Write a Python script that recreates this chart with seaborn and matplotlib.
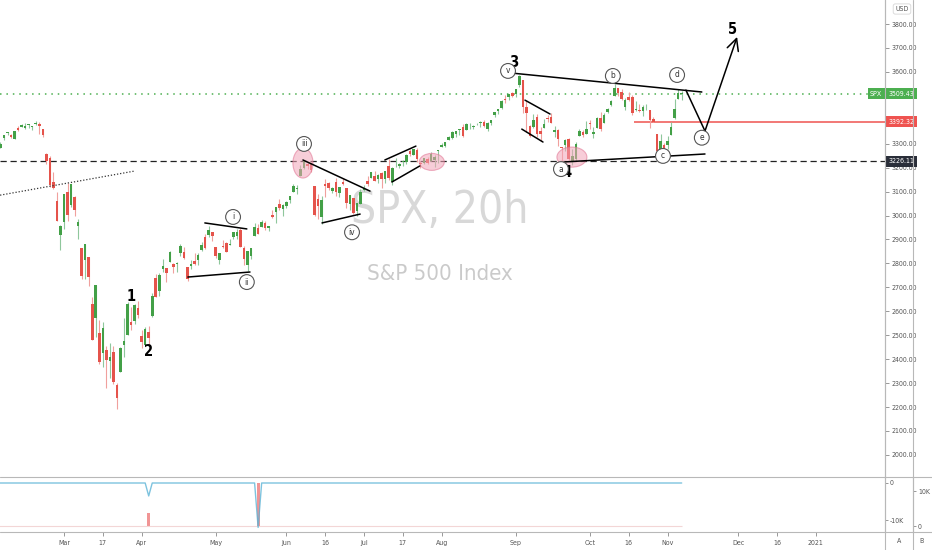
import numpy as np
import pandas as pd
import matplotlib
matplotlib.use("Agg")
import matplotlib.pyplot as plt
import matplotlib.transforms as mtransforms
from matplotlib import font_manager
from matplotlib.lines import Line2D
from matplotlib.patches import Ellipse
import seaborn as sns

# trading calendar (one 20h bar per session)
holidays = ["2020-02-17", "2020-04-10", "2020-05-25", "2020-07-03",
            "2020-09-07", "2020-11-26", "2020-12-25", "2021-01-01"]
anchor_day = "2020-03-02"
first_day = "2020-02-03"

opens = [
    3235.66, 3280.61, 3324.91, 3344.92, 3335.54, 3318.28, 3365.87, 3370.50, 3365.90, 3378.08,
    3369.04, 3380.39, 3380.45, 3360.50, 3257.61, 3238.94, 3139.90, 3062.54, 2916.90,
    2974.28, 3096.46, 3045.75, 3075.70, 2954.20, 2863.89, 2813.48, 2825.60, 2630.86, 2569.99,
    2508.59, 2425.66, 2436.50, 2393.48, 2431.94, 2290.71, 2344.44, 2457.77, 2501.29, 2555.87,
    2558.98, 2614.69,
    2498.08, 2458.54, 2514.92, 2578.28, 2738.65, 2685.00, 2776.99, 2782.46, 2805.10, 2795.64,
    2799.34, 2842.43, 2845.62, 2784.81, 2787.89, 2810.42, 2812.64, 2854.65, 2909.96, 2918.46,
    2930.91,
    2869.09, 2815.01, 2868.88, 2883.14, 2878.26, 2908.83, 2915.46, 2939.50, 2865.86, 2794.54,
    2829.95, 2913.86, 2948.59, 2953.63, 2969.95, 2948.05, 3004.08, 3015.65, 3046.61, 3025.17,
    3038.78, 3064.78, 3098.90, 3111.56, 3163.84, 3199.92, 3213.32, 3213.42, 3123.53, 3071.04,
    2993.76, 3131.00, 3136.13, 3101.64, 3140.29, 3094.42, 3138.70, 3114.40, 3046.60, 3073.20,
    3018.59, 3050.20,
    3105.92, 3143.64, 3155.29, 3166.44, 3153.07, 3176.17, 3152.47, 3205.08, 3141.11, 3225.98,
    3208.36, 3224.21, 3224.29, 3268.52, 3254.86, 3271.64, 3218.58, 3219.84, 3234.27, 3227.22,
    3231.76, 3270.45,
    3288.26, 3289.92, 3317.37, 3323.17, 3340.05, 3356.04, 3370.34, 3355.46, 3372.95, 3368.66,
    3380.86, 3387.04, 3392.51, 3360.48, 3386.01, 3418.09, 3435.95, 3449.97, 3485.14, 3494.69,
    3509.73,
    3507.44, 3543.76, 3564.74, 3453.60, 3371.88, 3369.82, 3412.56, 3352.70, 3363.56, 3407.73,
    3411.23, 3346.86, 3357.38, 3285.57, 3295.75, 3320.11, 3226.14, 3236.66, 3333.90, 3350.92,
    3341.21,
    3385.87, 3338.94, 3367.27, 3408.74, 3384.56, 3434.28, 3459.67, 3500.02, 3534.01, 3515.47,
    3453.72, 3493.50, 3493.66, 3439.38, 3439.91, 3438.50, 3464.90, 3441.42, 3403.15, 3342.48,
    3277.17, 3293.59,
    3296.20, 3336.25, 3406.46, 3485.74, 3508.34,
]
highs = [
    3268.44, 3306.92, 3337.58, 3347.96, 3341.42, 3352.26, 3375.63, 3381.47, 3385.09, 3380.69,
    3375.01, 3393.52, 3389.15, 3360.76, 3259.81, 3246.99, 3182.51, 3097.07, 2959.72,
    3090.96, 3136.72, 3130.97, 3083.04, 2985.93, 2863.89, 2882.59, 2825.60, 2660.95, 2711.33,
    2562.98, 2553.93, 2453.57, 2466.97, 2453.01, 2300.73, 2449.71, 2571.42, 2637.01, 2615.91,
    2631.80, 2641.39,
    2522.75, 2533.22, 2538.18, 2676.85, 2756.89, 2760.75, 2818.57, 2782.46, 2851.85, 2801.88,
    2806.51, 2879.22, 2868.98, 2785.54, 2815.10, 2844.90, 2842.71, 2887.72, 2921.15, 2954.86,
    2930.91,
    2869.09, 2844.24, 2898.23, 2891.11, 2901.92, 2932.16, 2944.25, 2945.82, 2874.14, 2852.80,
    2865.01, 2968.09, 2964.21, 2980.29, 2978.50, 2956.76, 3021.72, 3036.25, 3068.67, 3049.17,
    3062.18, 3081.07, 3130.94, 3128.91, 3211.72, 3233.13, 3222.71, 3223.27, 3123.53, 3088.42,
    3079.76, 3153.45, 3141.16, 3120.00, 3155.53, 3120.92, 3154.90, 3115.01, 3086.25, 3073.73,
    3053.89, 3111.51,
    3128.44, 3165.81, 3182.59, 3184.15, 3171.80, 3179.78, 3186.82, 3235.32, 3200.95, 3238.28,
    3220.39, 3233.52, 3258.61, 3277.29, 3279.32, 3279.99, 3227.26, 3241.43, 3243.72, 3264.74,
    3250.92, 3272.17,
    3302.73, 3306.84, 3330.77, 3351.03, 3352.54, 3363.29, 3381.01, 3387.89, 3387.24, 3378.51,
    3387.59, 3395.06, 3399.54, 3390.80, 3399.96, 3432.09, 3444.21, 3481.07, 3501.38, 3509.23,
    3514.77,
    3528.03, 3588.11, 3564.85, 3479.15, 3379.97, 3424.77, 3425.55, 3368.95, 3402.93, 3419.48,
    3428.92, 3375.17, 3362.27, 3285.57, 3320.31, 3323.35, 3278.70, 3306.88, 3360.74, 3357.92,
    3393.56,
    3397.18, 3369.10, 3409.57, 3431.56, 3426.26, 3447.28, 3482.34, 3549.85, 3534.01, 3527.94,
    3489.08, 3515.76, 3502.42, 3476.93, 3464.86, 3460.53, 3466.46, 3441.42, 3409.51, 3342.48,
    3341.05, 3304.93,
    3330.14, 3389.49, 3486.25, 3529.05, 3521.58,
]
lows = [
    3235.66, 3280.61, 3313.75, 3334.39, 3322.12, 3317.77, 3352.72, 3369.72, 3360.52, 3366.15,
    3355.61, 3378.83, 3341.02, 3328.45, 3214.65, 3118.77, 3108.99, 2977.39, 2855.84,
    2945.19, 2976.63, 3034.38, 2999.83, 2901.54, 2734.43, 2734.00, 2707.22, 2478.86, 2492.37,
    2380.94, 2367.04, 2280.52, 2319.78, 2295.56, 2191.86, 2344.44, 2407.53, 2500.72, 2520.02,
    2545.28, 2571.15,
    2447.49, 2455.79, 2459.96, 2574.57, 2657.67, 2663.30, 2762.36, 2721.17, 2805.10, 2761.54,
    2764.32, 2830.88, 2820.43, 2727.10, 2775.95, 2794.26, 2791.76, 2852.89, 2860.71, 2912.16,
    2892.47,
    2821.61, 2797.85, 2863.55, 2847.65, 2876.48, 2902.88, 2903.44, 2869.59, 2793.15, 2766.64,
    2816.78, 2913.86, 2922.35, 2953.63, 2938.57, 2933.59, 2988.17, 2969.75, 3023.40, 2998.61,
    3031.54, 3051.64, 3098.90, 3090.41, 3163.84, 3196.00, 3193.11, 3181.49, 2999.49, 2984.47,
    2965.66, 3076.06, 3108.03, 3093.51, 3083.11, 3079.39, 3127.12, 3032.13, 3024.01, 3004.63,
    2999.74, 3047.83,
    3101.17, 3124.52, 3155.29, 3142.93, 3136.53, 3115.70, 3136.22, 3149.43, 3127.66, 3200.76,
    3198.59, 3205.65, 3215.16, 3247.77, 3253.10, 3222.66, 3200.05, 3214.25, 3216.17, 3227.22,
    3204.13, 3220.26,
    3284.53, 3286.37, 3317.37, 3318.14, 3328.72, 3335.44, 3326.44, 3355.46, 3363.35, 3361.64,
    3379.22, 3370.15, 3369.66, 3354.69, 3379.31, 3413.13, 3425.84, 3444.15, 3468.35, 3484.32,
    3493.25,
    3494.60, 3535.23, 3427.41, 3349.63, 3329.27, 3366.84, 3329.25, 3310.47, 3363.56, 3389.25,
    3384.45, 3328.82, 3292.40, 3229.10, 3270.95, 3232.57, 3209.45, 3228.44, 3332.91, 3327.54,
    3340.47,
    3361.39, 3323.69, 3367.27, 3354.54, 3384.56, 3428.15, 3458.07, 3499.61, 3500.86, 3480.55,
    3440.89, 3480.45, 3419.93, 3435.65, 3433.06, 3415.34, 3440.45, 3364.86, 3388.71, 3268.89,
    3259.82, 3233.94,
    3279.74, 3336.25, 3405.17, 3485.74, 3484.34,
]
closes = [
    3248.92, 3297.59, 3334.69, 3345.78, 3327.71, 3352.09, 3357.75, 3379.45, 3373.94, 3380.16,
    3370.29, 3386.15, 3373.23, 3337.75, 3225.89, 3128.21, 3116.39, 2978.76, 2954.22,
    3090.23, 3003.37, 3130.12, 3023.94, 2972.37, 2746.56, 2882.23, 2741.38, 2480.64, 2711.02,
    2386.13, 2529.19, 2398.10, 2409.39, 2304.92, 2237.40, 2447.33, 2475.56, 2630.07, 2541.47,
    2626.65, 2584.59,
    2470.50, 2526.90, 2488.65, 2663.68, 2659.41, 2749.98, 2789.82, 2761.63, 2846.06, 2783.36,
    2799.55, 2874.56, 2823.16, 2736.56, 2799.31, 2797.80, 2836.74, 2878.48, 2863.39, 2939.51,
    2912.43,
    2830.71, 2842.74, 2868.44, 2848.42, 2881.19, 2929.80, 2930.32, 2870.12, 2820.00, 2852.50,
    2863.70, 2953.91, 2922.94, 2971.61, 2948.51, 2955.45, 2991.77, 3036.13, 3029.73, 3044.31,
    3055.73, 3080.82, 3122.87, 3112.35, 3193.93, 3232.39, 3207.18, 3190.14, 3002.10, 3041.31,
    3066.59, 3124.74, 3113.49, 3115.34, 3097.74, 3117.86, 3131.29, 3050.33, 3083.76, 3009.05,
    3053.24, 3100.29,
    3115.86, 3130.01, 3179.72, 3145.32, 3169.94, 3152.05, 3185.04, 3155.22, 3197.52, 3226.56,
    3215.57, 3224.73, 3251.84, 3257.30, 3276.02, 3235.66, 3215.63, 3239.41, 3218.44, 3258.44,
    3246.22, 3271.12,
    3294.61, 3306.51, 3327.77, 3349.16, 3351.28, 3360.47, 3333.69, 3380.35, 3373.43, 3372.85,
    3381.99, 3389.78, 3374.85, 3385.51, 3397.16, 3431.28, 3443.62, 3478.73, 3484.55, 3508.01,
    3500.31,
    3526.65, 3580.84, 3455.06, 3426.96, 3331.84, 3398.96, 3339.19, 3340.97, 3383.54, 3401.20,
    3385.49, 3357.01, 3319.47, 3281.06, 3315.57, 3236.92, 3246.59, 3298.46, 3351.60, 3335.47,
    3363.00,
    3380.80, 3348.42, 3408.60, 3360.97, 3419.44, 3446.83, 3477.14, 3534.22, 3511.93, 3488.67,
    3483.34, 3483.81, 3426.92, 3443.12, 3435.56, 3453.49, 3465.39, 3400.97, 3390.68, 3271.03,
    3310.11, 3269.96,
    3310.24, 3369.16, 3443.44, 3510.45, 3509.43,
]

# bottom indicator: flat at zero with two spikes
spike_days = ["2020-04-03", "2020-05-19"]
spike_line = [-3500, -12000]
spike_bars = [3700, 12300]

# horizontal levels
last_price = 3509.43
red_level = 3392.32
black_level = 3226.11
red_level_from = "2020-10-20"

tick_days = ["2020-03-02", "2020-03-17", "2020-04-01", "2020-05-01", "2020-06-01", "2020-06-16",
             "2020-07-01", "2020-07-17", "2020-08-03", "2020-09-01", "2020-10-01", "2020-10-16",
             "2020-11-02", "2020-12-01", "2020-12-16", "2021-01-04"]
tick_labels = ["Mar", "17", "Apr", "May", "Jun", "16", "Jul", "17", "Aug", "Sep", "Oct", "16",
               "Nov", "Dec", "16", "2021"]
price_ticks = list(range(2000, 3801, 100))
hidden_ticks = [3400, 3500]  # covered by the price boxes

# drawn annotations, as (bar offset from Mar 2, price)
dotted_trend = [(-18.1, 3085), (20.1, 3186)]
trend_lines = [
    [(39.9, 2969), (51.8, 2944)],
    [(35.1, 2743), (52.7, 2764)],
    [(67.7, 3232), (86.7, 3102)],
    [(73.1, 2969), (83.9, 3006)],
    [(90.9, 3232), (99.7, 3290)],
    [(92.9, 3140), (100.8, 3207)],
    [(130.6, 3482), (137.7, 3424)],
    [(129.7, 3361), (135.7, 3307)],
    [(126.9, 3595), (180.7, 3516)],
    [(141.9, 3224), (181.6, 3257)],
]
projection = [(176.2, 3524), (181.6, 3353), (190.7, 3746)]
wave_numbers = [("1", 19.0, 2660), ("2", 24.1, 2430), ("3", 127.5, 3640),
                ("4", 142.5, 3178), ("5", 189.5, 3775)]
wave_circles = [("i", 47.9, 2994), ("ii", 51.8, 2722), ("iii", 68.0, 3299),
                ("iv", 81.6, 2930), ("v", 125.8, 3604), ("a", 140.8, 3194),
                ("b", 155.5, 3583), ("c", 169.7, 3249), ("d", 173.7, 3587),
                ("e", 180.7, 3325)]
highlights = [(67.7, 3219, 5.7, 125), (104.2, 3224, 7.1, 71), (143.9, 3244, 8.5, 84)]


def bar_pos(day):
    return int(np.busday_count(anchor_day, day, holidays=holidays))


def pick_narrow_font():
    fonts = font_manager.fontManager.ttflist
    if any(f.name == "Liberation Sans Narrow" for f in fonts):
        return "Liberation Sans Narrow", "normal", 1.3
    if any(f.name == "DejaVu Sans" and f.stretch == "condensed" for f in fonts):
        return "DejaVu Sans", "condensed", 1.1
    return "DejaVu Sans", "normal", 1.0


sns.set_theme(style="white")
narrow_name, narrow_stretch, k = pick_narrow_font()
plt.rcParams["font.family"] = [narrow_name, "DejaVu Sans"]
plt.rcParams["font.stretch"] = narrow_stretch
small = 4.6 * k

W, H = 932, 550
fig = plt.figure(figsize=(W / 100, H / 100), dpi=100)
ax = fig.add_axes([0, 73 / H, 885 / W, 477 / H])
axi = fig.add_axes([0, 18 / H, 885 / W, 55 / H])

o = np.array(opens)
h = np.array(highs)
l = np.array(lows)
c = np.array(closes)
x = bar_pos(first_day) + np.arange(len(c))
up = c >= o

green, red = "#43a047", "#e5534b"
ax.vlines(x, l, h, colors=np.where(up, "#8fc79c", "#f0a09d"), linewidth=0.8, zorder=2)
ax.bar(x, np.maximum(np.abs(c - o), 3), bottom=np.minimum(o, c), width=0.72,
       color=np.where(up, green, red), linewidth=0, zorder=3)

ax.set_xlim(-18.13, 232.6)
ax.set_ylim(1907.7, 3900.3)
axi.set_xlim(-18.13, 232.6)

# levels
ax.axhline(last_price, color="#4caf50", lw=1.1, linestyle=(0, (1, 3.2)), zorder=1)
ax.axhline(black_level, color="#222222", lw=0.9, linestyle=(0, (5, 3)), zorder=1)
ax.hlines(red_level, bar_pos(red_level_from) - 0.5, 232.6, color="#ef5350", lw=1.1, zorder=1)
ax.plot(*zip(*dotted_trend), color="#333333", lw=0.9, linestyle=(0, (1, 1.5)), zorder=4)

for seg in trend_lines:
    ax.plot(*zip(*seg), color="black", lw=1.1, solid_capstyle="round", zorder=5)
ax.plot(*zip(*projection[:2]), color="black", lw=1.1, zorder=5)
ax.annotate("", xy=projection[2], xytext=projection[1],
            arrowprops=dict(arrowstyle="->,head_length=0.7,head_width=0.35", color="black",
                            lw=1.1, shrinkA=0, shrinkB=0), zorder=5)

for cx, cy, w, hgt in highlights:
    ax.add_patch(Ellipse((cx, cy), w, hgt, facecolor="#f2a5b8", alpha=0.55,
                         edgecolor="#e07090", lw=0.8, zorder=4))

for txt, bx, py in wave_numbers:
    ax.text(bx, py, txt, ha="center", va="center", fontsize=10.5, fontweight="bold",
            color="black", zorder=6)
for txt, bx, py in wave_circles:
    ax.text(bx, py, txt, ha="center", va="center", fontsize=6, color="#333333", zorder=6,
            bbox=dict(boxstyle="circle,pad=0.35", fc="white", ec="#555555", lw=0.8))

# watermark
blend = mtransforms.blended_transform_factory(ax.transAxes, ax.transData)
ax.text(440 / 885, 3023, "SPX, 20h", transform=blend, ha="center", va="center",
        fontsize=29 * k, color="#d8d8d8", zorder=0)
ax.text(440 / 885, 2756, "S&P 500 Index", transform=blend, ha="center", va="center",
        fontsize=14.5 * k, color="#cacaca", zorder=0)

# price axis
for side in ["top", "left", "bottom"]:
    ax.spines[side].set_visible(False)
ax.spines["right"].set_color("#b8b8b8")
ax.spines["right"].set_linewidth(0.8)
ax.yaxis.tick_right()
ax.set_yticks(price_ticks)
ax.set_yticklabels(["" if p in hidden_ticks else f"{p:.2f}" for p in price_ticks])
ax.tick_params(axis="y", length=3, width=0.6, color="#888888", pad=1.5, labelsize=small,
               labelcolor="#555555")
ax.set_xticks([])

box = dict(boxstyle="square,pad=0.35", ec="none")
ax.text(1.004, last_price, "3509.43", transform=blend, ha="left", va="center", fontsize=small,
        color="white", bbox=dict(box, fc="#4caf50"), zorder=7)
ax.text(0.997, last_price, "SPX", transform=blend, ha="right", va="center", fontsize=small,
        color="white", bbox=dict(box, fc="#4caf50"), zorder=7)
ax.text(1.004, red_level, "3392.32", transform=blend, ha="left", va="center", fontsize=small,
        color="white", bbox=dict(box, fc="#ef5350"), zorder=7)
ax.text(1.004, black_level, "3226.11", transform=blend, ha="left", va="center", fontsize=small,
        color="white", bbox=dict(box, fc="#2a2e39"), zorder=7)

# indicator panel
n_bars = len(c)
line_vals = np.zeros(n_bars)
bar_vals = np.zeros(n_bars)
for day, lv, bv in zip(spike_days, spike_line, spike_bars):
    j = bar_pos(day) - bar_pos(first_day)
    line_vals[j] = lv
    bar_vals[j] = bv
ind = pd.DataFrame({"bar": x, "line": line_vals, "hist": bar_vals})

axi.set_ylim(-13240, 1620)
twin = axi.twinx()
twin.set_ylim(-1714, 14000)
twin.hlines(0, x[0], x[-1], color="#f3d6d6", lw=0.8)
twin.bar(ind["bar"], ind["hist"], width=0.8, color="#f08a8a", alpha=0.9, linewidth=0)
sns.lineplot(data=ind, x="bar", y="line", ax=axi, color="#5db4d6", linewidth=1.0,
             estimator=None, legend=False, alpha=0.8)
axi.set_zorder(twin.get_zorder() + 1)
axi.patch.set_visible(False)

for a in (axi, twin):
    a.spines["left"].set_visible(False)
    a.spines["top"].set_visible(False)
    a.spines["bottom"].set_visible(False)
    a.set_xlabel("")
    a.set_ylabel("")
axi.spines["right"].set_color("#b8b8b8")
axi.spines["right"].set_linewidth(0.8)
twin.spines["right"].set_position(("axes", 913 / 885))
twin.spines["right"].set_color("#b8b8b8")
twin.spines["right"].set_linewidth(0.8)

axi.yaxis.tick_right()
axi.set_yticks([0, -10000])
axi.set_yticklabels(["0", "-10K"])
twin.set_yticks([0, 10000])
twin.set_yticklabels(["0", "10K"])
for a in (axi, twin):
    a.tick_params(axis="y", length=2.5, width=0.6, color="#888888", pad=1, labelsize=small,
                  labelcolor="#555555")

axi.set_xticks([bar_pos(d) for d in tick_days])
axi.set_xticklabels(tick_labels)
axi.tick_params(axis="x", length=3, width=0.6, color="#888888", pad=2.5, labelsize=small,
                labelcolor="#555555", bottom=True)

# panel frame lines
for yy in (477, 532):
    fig.add_artist(Line2D([0, 1], [1 - yy / H] * 2, transform=fig.transFigure,
                          color="#b8b8b8", lw=0.8))
for xx in (885, 913):
    fig.add_artist(Line2D([xx / W] * 2, [0, 1], transform=fig.transFigure,
                          color="#b8b8b8", lw=0.8))

fig.text(902 / W, 1 - 9 / H, "USD", ha="center", va="center", fontsize=small, color="#555555",
         bbox=dict(boxstyle="round,pad=0.3", fc="white", ec="#d6d6d6", lw=0.6))
fig.text(899 / W, 1 - 541 / H, "A", ha="center", va="center", fontsize=small, color="#555555")
fig.text(922 / W, 1 - 541 / H, "B", ha="center", va="center", fontsize=small, color="#555555")

fig.savefig("out.png", dpi=100)
